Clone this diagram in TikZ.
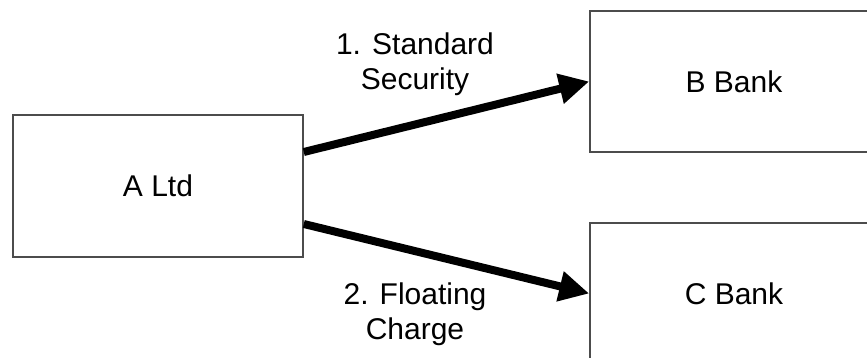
\documentclass[tikz,border=0pt]{standalone}
\usepackage{fontspec}
\setmainfont{Liberation Sans}
\usepackage{tikz}
\usetikzlibrary{arrows.meta, positioning}
\tikzstyle{party} = [rectangle, minimum width=290pt, minimum height=142pt, text centered, draw=black!70, line width=1.6pt, font=\fontsize{30}{34.5}\selectfont]
\tikzstyle{bank} = [rectangle, minimum width=288pt, minimum height=141pt, text centered, draw=black!70, line width=1.6pt, font=\fontsize{30}{34.5}\selectfont]
\tikzstyle{detail} = [rectangle, align=center, inner sep=0pt, font=\fontsize{30}{34.5}\selectfont]
\tikzstyle{security} = [line width=8pt, -{Triangle[length=30pt, width=29pt]}]

\begin{document}
\begin{tikzpicture}[x=1pt, y=1pt, node distance=576pt]
\useasboundingbox (0,0) rectangle (867,358);
\node (ltd) [party] at (158,172) {A Ltd};
\node (bbank) [bank, right of=ltd, yshift=104.5pt] {B Bank};
\node (cbank) [bank, right of=ltd, yshift=-107.5pt] {C Bank};
\node (std) [detail, right of=ltd, xshift=-319pt, yshift=122pt] {1. Standard\\Security};
\node (flt) [detail, right of=ltd, xshift=-319pt, yshift=-128pt] {2. Floating\\Charge};
\draw[security] ([yshift=34pt]ltd.east) -- (bbank.west);
\draw[security] ([yshift=-38pt]ltd.east) -- (cbank.west);
\end{tikzpicture}
\end{document}
